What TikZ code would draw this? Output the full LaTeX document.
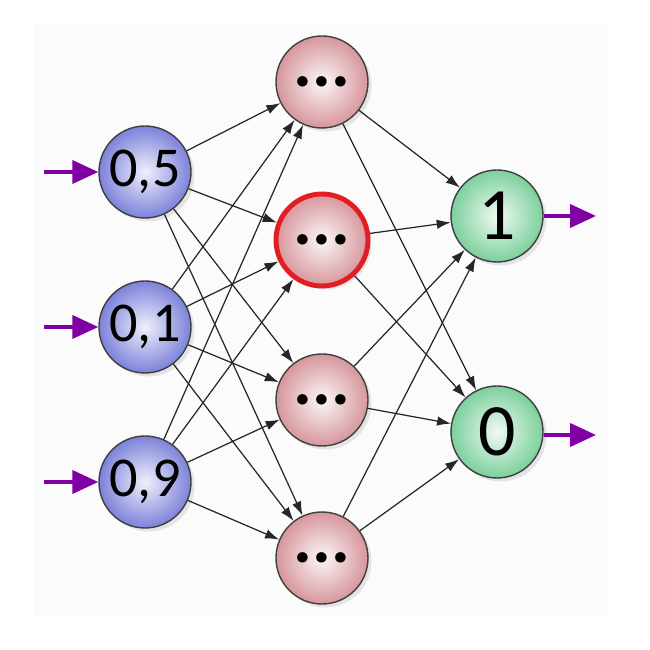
\documentclass[tikz,border=0pt]{standalone}
\usepackage{fontspec}
\setmainfont{Carlito}
\usetikzlibrary{arrows.meta,shadows}
\definecolor{inblue}{RGB}{124,130,218}
\definecolor{hidpink}{RGB}{214,150,156}
\definecolor{outgreen}{RGB}{124,208,156}
\definecolor{arrowpurple}{RGB}{128,0,164}
\definecolor{ringred}{RGB}{226,30,36}
\tikzset{
	neuron/.style={circle, minimum size=1.84cm, inner sep=0pt, draw=black!75, line width=0.8pt,
		drop shadow={opacity=0.18, shadow xshift=0.07cm, shadow yshift=-0.07cm}},
	inneuron/.style={neuron, inner color=inblue!12, outer color=inblue, font=\fontsize{32}{32}\selectfont},
	hidneuron/.style={neuron, inner color=hidpink!8, outer color=hidpink, font=\bfseries\fontsize{40}{40}\selectfont},
	outneuron/.style={neuron, inner color=outgreen!12, outer color=outgreen, font=\fontsize{42}{42}\selectfont},
	link/.style={draw=black!85, line width=0.7pt, -{Latex[length=2.8mm,width=1.9mm]}},
	io/.style={draw=arrowpurple, line width=2.2pt, -{Triangle[length=5.2mm,width=4.6mm]}}
}
\begin{document}
\begin{tikzpicture}
			%%%%% START %%%%%
			
			\useasboundingbox[fill=white] (0, 0) rectangle (13, 13);
			\fill[black!1.5] (0.68, 0.7) rectangle (12.14, 12.5);
			
			% input layer
			\node[inneuron] (in1) at (2.9, 9.56) {0,5};
			\node[inneuron] (in2) at (2.9, 6.46) {0,1};
			\node[inneuron] (in3) at (2.9, 3.36) {0,9};
			
			% hidden layer
			\node[hidneuron] (hid1) at (6.44, 11.36) {...};
			\node[hidneuron, draw=ringred, line width=2.8pt] (hid2) at (6.44, 8.2) {...};
			\node[hidneuron] (hid3) at (6.44, 5.0) {...};
			\node[hidneuron] (hid4) at (6.44, 1.84) {...};
			
			% output layer
			\node[outneuron] (out1) at (9.94, 8.68) {1};
			\node[outneuron] (out2) at (9.94, 4.36) {0};
			
			\coordinate (in1w) at (0.88, 9.56);
			\coordinate (in2w) at (0.88, 6.46);
			\coordinate (in3w) at (0.88, 3.36);
			\coordinate (out1e) at (11.92, 8.68);
			\coordinate (out2e) at (11.92, 4.3);
			
			\draw[io] (in1w) -- (in1);
			\draw[io] (in2w) -- (in2);
			\draw[io] (in3w) -- (in3);
			\draw[io] (out1) -- (out1e);
			\draw[io] (out2.east |- out2e) -- (out2e);
			
			\draw[link] (in1) -- (hid1);
			\draw[link] (in1) -- (hid2);
			\draw[link] (in1) -- (hid3);
			\draw[link] (in1) -- (hid4);
			\draw[link] (in2) -- (hid1);
			\draw[link] (in2) -- (hid2);
			\draw[link] (in2) -- (hid3);
			\draw[link] (in2) -- (hid4);
			\draw[link] (in3) -- (hid1);
			\draw[link] (in3) -- (hid2);
			\draw[link] (in3) -- (hid3);
			\draw[link] (in3) -- (hid4);
			
			\draw[link] (hid1) -- (out1);
			\draw[link] (hid1) -- (out2);
			\draw[link] (hid2) -- (out1);
			\draw[link] (hid2) -- (out2);
			\draw[link] (hid3) -- (out1);
			\draw[link] (hid3) -- (out2);
			\draw[link] (hid4) -- (out1);
			\draw[link] (hid4) -- (out2);
			
			%%%%% END %%%%%
\end{tikzpicture}
\end{document}
